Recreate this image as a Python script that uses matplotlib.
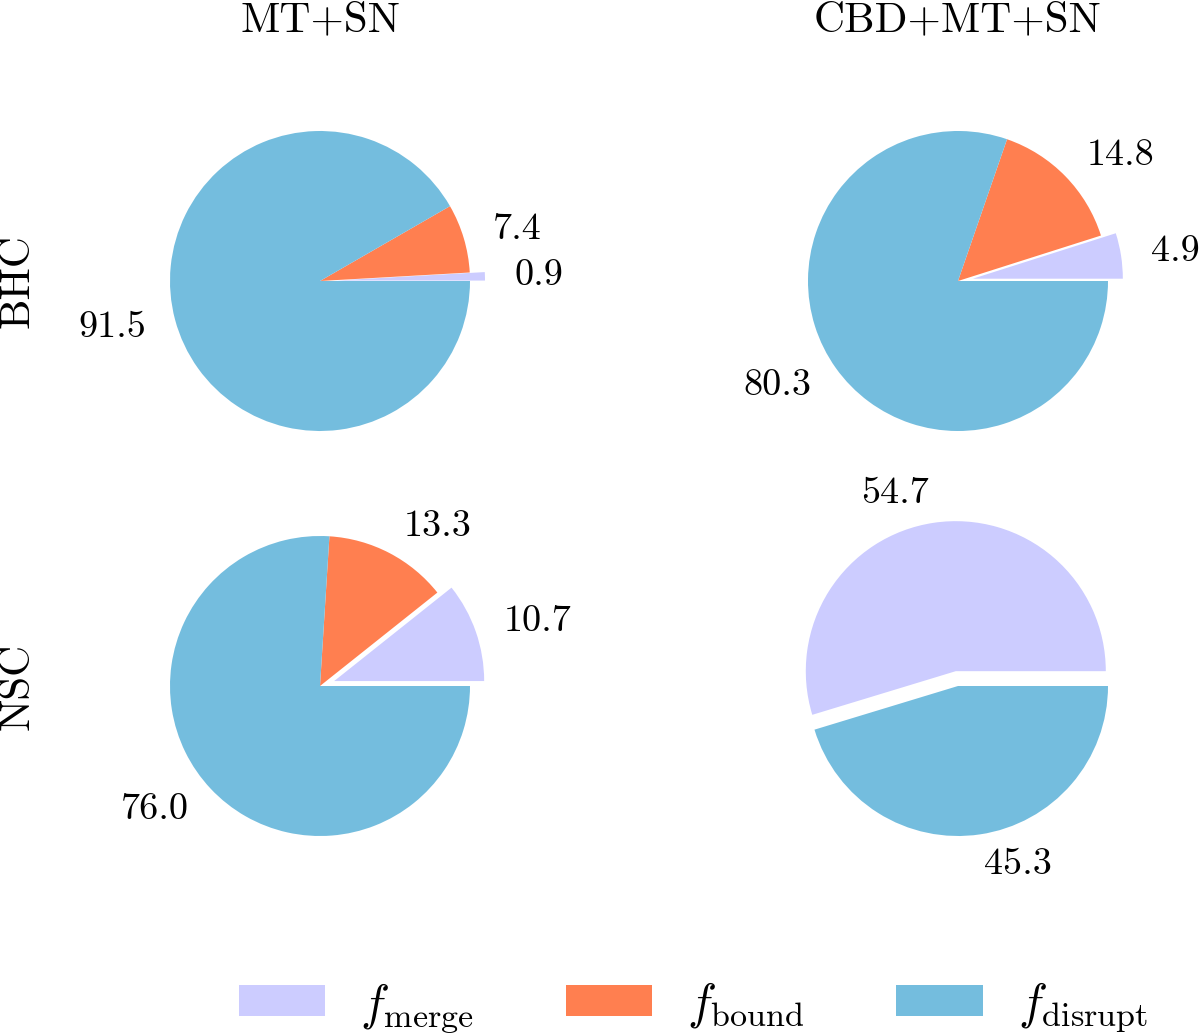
import numpy as np
import matplotlib
matplotlib.use('Agg')
import matplotlib.pyplot as plt
from matplotlib.patches import Patch

plt.rcParams['font.family'] = 'cmr10'
plt.rcParams['mathtext.fontset'] = 'cm'
plt.rcParams['axes.unicode_minus'] = False

#data: fractions in percent, order merge / bound / disrupt
columns = ['MT+SN', 'CBD+MT+SN']
rows = ['BHC', 'NSC']
bhc_mtsn = [0.9, 7.4, 91.5]
bhc_cbd = [4.9, 14.8, 80.3]
nsc_mtsn = [10.7, 13.3, 76.0]
nsc_cbd = [54.7, 0.0, 45.3]
legend_labels = [r'$f_{\rm merge}$', r'$f_{\rm bound}$', r'$f_{\rm disrupt}$']

colors = ['#CCCCFF', '#FF7F50', '#74BDDE']
W, H = 1200, 1034
fig = plt.figure(figsize=(12, 10.34), dpi=100)

# pie centres in pixels
centres = {(0, 0): (320, 281), (0, 1): (958, 281),
           (1, 0): (320, 686), (1, 1): (958, 686)}
data = {(0, 0): bhc_mtsn, (0, 1): bhc_cbd, (1, 0): nsc_mtsn, (1, 1): nsc_cbd}

R = 150  # pixel radius
half = 1.25 * R
for key, vals in data.items():
    cx, cy = centres[key]
    ax = fig.add_axes([(cx - half) / W, (H - cy - half) / H, 2 * half / W, 2 * half / H])
    labels = ['%.1f' % v if v > 0 else '' for v in vals]
    ax.pie(vals, labels=labels, colors=colors, explode=[0.1, 0, 0],
           startangle=0, counterclock=True, labeldistance=1.2,
           textprops={'fontsize': 27.5})
    ax.set_xlim(-1.25, 1.25)
    ax.set_ylim(-1.25, 1.25)
    ax.set_aspect('equal')
    ax.axis('off')

# column titles and row labels
for j, name in enumerate(columns):
    cx = centres[(0, j)][0]
    fig.text(cx / W, 1 - 31 / H, name, ha='center', va='baseline', fontsize=31)
for i, name in enumerate(rows):
    cy = centres[(i, 0)][1]
    fig.text(29 / W, 1 - cy / H, name, ha='center', va='baseline', rotation=90,
             rotation_mode='anchor', fontsize=31)

handles = [Patch(facecolor=c, edgecolor='none') for c in colors]
fig.legend(handles, legend_labels, loc='center', bbox_to_anchor=(693 / W, 1 - 1007 / H),
           ncol=3, frameon=False, fontsize=35, handlelength=1.77, handleheight=0.6,
           handletextpad=0.72, columnspacing=1.9, borderpad=0.2)

fig.savefig('out.png', dpi=100)
